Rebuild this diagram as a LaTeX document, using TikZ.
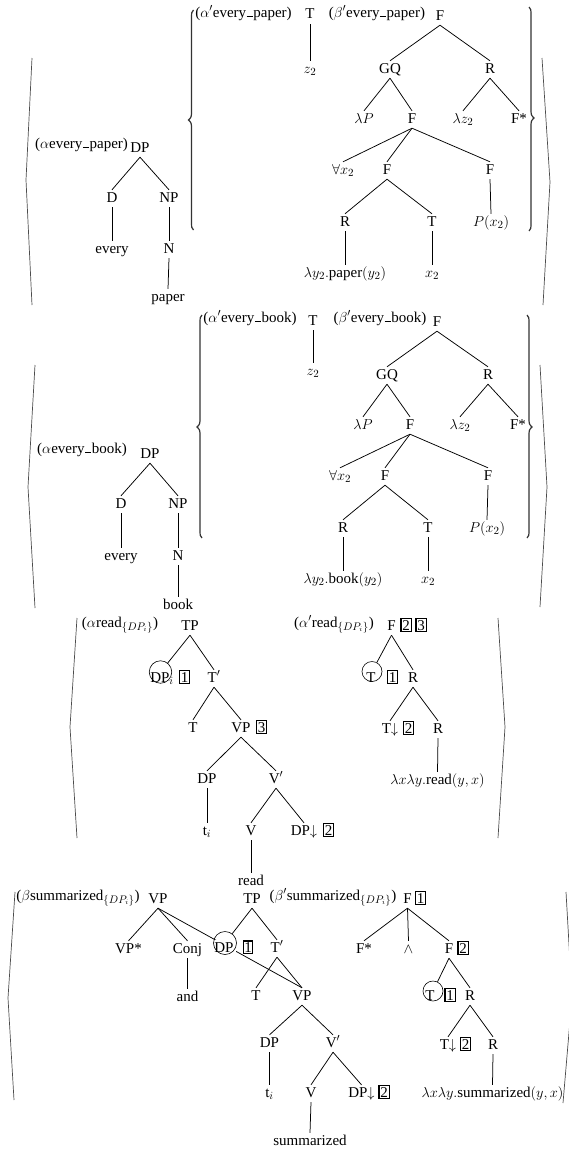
\documentclass[tikz,border=0pt]{standalone}
\usepackage{fontspec}
\setmainfont{Liberation Serif}
\newcommand{\usc}{\kern0.03em\rule{0.42em}{0.08em}\kern0.03em}
\tikzset{
 tn/.style={anchor=base, inner sep=2pt, text height=10pt, text depth=3pt, font=\fontsize{15}{18}\selectfont},
 lab/.style={anchor=base, inner sep=1pt, font=\fontsize{15}{18}\selectfont},
 bx/.style={anchor=base, draw, line width=1.3pt, inner sep=1.4pt, font=\fontsize{15}{18}\selectfont},
 cir/.style={circle, draw, line width=0.6pt, inner sep=0pt},
 edge/.style={line width=0.75pt},
 ang/.style={line width=0.7pt, draw=black!70},
 brc/.style={line width=1.2pt, draw=black!80},
}
\newcommand{\LBr}[4]{\draw[brc] (#1+2,#2) .. controls (#1,#2+2) .. (#1,#2+10) -- (#1,#3-10) .. controls (#1,#3-3) .. (#1-3,#3) .. controls (#1,#3+3) .. (#1,#3+10) -- (#1,#4-10) .. controls (#1,#4-2) .. (#1+2,#4);}
\newcommand{\RBr}[4]{\draw[brc] (#1-2,#2) .. controls (#1,#2+2) .. (#1,#2+10) -- (#1,#3-10) .. controls (#1,#3-3) .. (#1+3,#3) .. controls (#1,#3+3) .. (#1,#3+10) -- (#1,#4-10) .. controls (#1,#4-2) .. (#1-2,#4);}
\begin{document}
\begin{tikzpicture}[x=1pt,y=-1pt]
\useasboundingbox (0,0) rectangle (569,1151);
% angle brackets
\draw[ang] (32,58) -- (26,180) -- (32,305);
\draw[ang] (542,58) -- (550,182) -- (543,305);
\draw[ang] (35,365) -- (28,487) -- (35,608);
\draw[ang] (540,365) -- (547,487) -- (540,607);
\draw[ang] (77,618) -- (70,727) -- (77,838);
\draw[ang] (498,618) -- (505,727) -- (498,838);
\draw[ang] (15,892) -- (8,998) -- (14,1100);
\draw[ang] (566,892) -- (572,997) -- (563,1103);
% braces
\LBr{191.5}{10}{120}{230}
\RBr{531}{7}{118}{231}
\LBr{200}{315}{427}{538}
\RBr{529}{315}{427}{538}

% ===== Section 1 =====
\node[lab] (a1lab) at (81.5,148) {($\alpha$every\usc paper)};
\node[tn] (a1dp) at (140,152) {DP};
\node[tn] (a1d) at (112,202) {D};
\node[tn] (a1np) at (169,202) {NP};
\node[tn] (a1every) at (112,253) {every};
\node[tn] (a1n) at (169,253) {N};
\node[tn] (a1paper) at (168,301) {paper};
\node[lab] (b1lab) at (243.5,17) {($\alpha'$every\usc paper)};
\node[tn] (b1t) at (310,19) {T};
\node[tn] (b1z) at (310,73) {$z_2$};
\node[lab] (c1lab) at (377,17) {($\beta'$every\usc paper)};
\node[tn] (c1f) at (440,20) {F};
\node[tn] (c1gq) at (390,73) {GQ};
\node[tn] (c1r) at (490,73) {R};
\node[tn] (c1lp) at (364,123) {$\lambda P$};
\node[tn] (c1f2) at (412,123) {F};
\node[tn] (c1lz) at (463,123) {$\lambda z_2$};
\node[tn] (c1fs) at (519,123) {F*};
\node[tn] (c1all) at (343,174) {$\forall x_2$};
\node[tn] (c1f3) at (387,174) {F};
\node[tn] (c1f4) at (490,174) {F};
\node[tn] (c1r2) at (345,226) {R};
\node[tn] (c1t) at (432,226) {T};
\node[tn] (c1p) at (491,226) {$P(x_2)$};
\node[tn] (c1lam) at (345,277) {$\lambda y_2.$paper$(y_2)$};
\node[tn] (c1x) at (432,277) {$x_2$};
\foreach \p/\c in {a1dp/a1d,a1dp/a1np,a1d/a1every,a1np/a1n,a1n/a1paper,b1t/b1z,
  c1f/c1gq,c1f/c1r,c1gq/c1lp,c1gq/c1f2,c1r/c1lz,c1r/c1fs,c1f2/c1all,c1f2/c1f3,c1f2/c1f4,
  c1f3/c1r2,c1f3/c1t,c1f4/c1p,c1r2/c1lam,c1t/c1x}
  \draw[edge] (\p.south) -- (\c.north);

% ===== Section 2 =====
\node[lab] (a2lab) at (82,453) {($\alpha$every\usc book)};
\node[tn] (a2dp) at (150,458) {DP};
\node[tn] (a2d) at (121,508) {D};
\node[tn] (a2np) at (178,508) {NP};
\node[tn] (a2every) at (121,560) {every};
\node[tn] (a2n) at (178,560) {N};
\node[tn] (a2book) at (178,609) {book};
\node[lab] (b2lab) at (250,322) {($\alpha'$every\usc book)};
\node[tn] (b2t) at (313,325) {T};
\node[tn] (b2z) at (313,375) {$z_2$};
\node[lab] (c2lab) at (380,322) {($\beta'$every\usc book)};
\node[tn] (c2f) at (437,326) {F};
\node[tn] (c2gq) at (387,379) {GQ};
\node[tn] (c2r) at (488,379) {R};
\node[tn] (c2lp) at (363,429) {$\lambda P$};
\node[tn] (c2f2) at (410,429) {F};
\node[tn] (c2lz) at (460,429) {$\lambda z_2$};
\node[tn] (c2fs) at (518,429) {F*};
\node[tn] (c2all) at (340,480) {$\forall x_2$};
\node[tn] (c2f3) at (385,480) {F};
\node[tn] (c2f4) at (488,480) {F};
\node[tn] (c2r2) at (343,532) {R};
\node[tn] (c2t) at (428,532) {T};
\node[tn] (c2p) at (487,532) {$P(x_2)$};
\node[tn] (c2lam) at (343,583) {$\lambda y_2.$book$(y_2)$};
\node[tn] (c2x) at (428,583) {$x_2$};
\foreach \p/\c in {a2dp/a2d,a2dp/a2np,a2d/a2every,a2np/a2n,a2n/a2book,b2t/b2z,
  c2f/c2gq,c2f/c2r,c2gq/c2lp,c2gq/c2f2,c2r/c2lz,c2r/c2fs,c2f2/c2all,c2f2/c2f3,c2f2/c2f4,
  c2f3/c2r2,c2f3/c2t,c2f4/c2p,c2r2/c2lam,c2t/c2x}
  \draw[edge] (\p.south) -- (\c.north);

% ===== Section 3 =====
\node[lab] (d3lab) at (120,627) {($\alpha$read$_{\{DP_i\}}$)};
\node[tn] (d3tp) at (190,630) {TP};
\node[tn] (d3dpi) at (162,682) {DP$_i$};
\node[cir, minimum size=22.5pt] (d3c) at (160.5,672) {};
\node[bx] (d3b1) at (184.5,682) {1};
\node[tn] (d3tb) at (214,682) {T$'$};
\node[tn] (d3t) at (193,732) {T};
\node[tn] (d3vp) at (241,732) {VP};
\node[bx] (d3b3) at (261.5,732) {3};
\node[tn] (d3dp) at (207,783) {DP};
\node[tn] (d3vb) at (276,783) {V$'$};
\node[tn] (d3ti) at (207,835) {t$_i$};
\node[tn] (d3v) at (251,835) {V};
\node[tn] (d3dpd) at (304,835) {DP$\downarrow$};
\node[bx] (d3b2) at (328.5,835) {2};
\node[tn] (d3read) at (251,885) {read};
\draw[edge] (d3tp.south) -- (d3c);
\foreach \p/\c in {d3tp/d3tb,d3tb/d3t,d3tb/d3vp,d3vp/d3dp,d3vp/d3vb,d3dp/d3ti,d3vb/d3v,d3vb/d3dpd,d3v/d3read}
  \draw[edge] (\p.south) -- (\c.north);

\node[lab] (e3lab) at (334,627) {($\alpha'$read$_{\{DP_i\}}$)};
\node[tn] (e3f) at (391.5,630) {F};
\node[bx] (e3b2) at (406,630) {2};
\node[bx] (e3b3) at (421,630) {3};
\node[tn] (e3t) at (371,682) {T};
\node[cir, minimum size=20pt] (e3c) at (372,671.5) {};
\node[bx] (e3b1) at (392.5,682) {1};
\node[tn] (e3r) at (413,682) {R};
\node[tn] (e3td) at (390,733) {T$\downarrow$};
\node[bx] (e3b2b) at (408.5,733) {2};
\node[tn] (e3r2) at (438,733) {R};
\node[tn] (e3lam) at (437.5,784) {$\lambda x\lambda y.$read$(y,x)$};
\draw[edge] (e3f.south) -- (e3c);
\foreach \p/\c in {e3f/e3r,e3r/e3td,e3r/e3r2,e3r2/e3lam}
  \draw[edge] (\p.south) -- (\c.north);

% ===== Section 4 =====
\node[lab] (f4lab) at (78,900) {($\beta$summarized$_{\{DP_i\}}$)};
\node[tn] (f4vp) at (158,903) {VP};
\node[tn] (f4vps) at (128.5,953) {VP*};
\node[tn] (f4conj) at (187.5,953) {Conj};
\node[tn] (f4and) at (187.5,1001) {and};
\node[tn] (g4tp) at (252,903) {TP};
\node[tn] (g4tb) at (277,952) {T$'$};
\node[tn] (g4t) at (256,1000) {T};
\node[tn] (g4vp) at (302,1000) {VP};
\draw[edge] (f4vp.south) -- (g4vp.north);
\node[tn, fill=white] (g4dp) at (224,952) {DP};
\node[cir, minimum size=23pt] (g4c) at (225,943) {};
\node[bx, line width=1.1pt, inner sep=1.1pt] (g4b1) at (248,952) {1};
\node[tn] (g4dp2) at (269.5,1047) {DP};
\node[tn] (g4vb) at (333,1047) {V$'$};
\node[tn] (g4ti) at (269.5,1097) {t$_i$};
\node[tn] (g4v) at (311,1097) {V};
\node[tn] (g4dpd) at (361.5,1097) {DP$\downarrow$};
\node[bx] (g4b2) at (384,1097) {2};
\node[tn] (g4sum) at (310,1145) {summarized};
\draw[edge] (g4tp.south) -- (g4c);
\foreach \p/\c in {f4vp/f4vps,f4vp/f4conj,f4conj/f4and,g4tp/g4tb,g4tb/g4t,g4tb/g4vp,
  g4vp/g4dp2,g4vp/g4vb,g4dp2/g4ti,g4vb/g4v,g4vb/g4dpd,g4v/g4sum}
  \draw[edge] (\p.south) -- (\c.north);

\node[lab] (h4lab) at (333,900) {($\beta'$summarized$_{\{DP_i\}}$)};
\node[tn] (h4f) at (407.5,903) {F};
\node[bx] (h4b1) at (420.5,903) {1};
\node[tn] (h4fs) at (364,953) {F*};
\node[tn] (h4and) at (408.5,953) {$\wedge$};
\node[tn] (h4f2) at (449,953) {F};
\node[bx] (h4b2) at (463,953) {2};
\node[tn] (h4t) at (430,1000) {T};
\node[cir, minimum size=20pt] (h4c) at (433,991) {};
\node[bx] (h4b1b) at (450,1000) {1};
\node[tn] (h4r) at (470,1000) {R};
\node[tn] (h4td) at (448,1049) {T$\downarrow$};
\node[bx] (h4b2b) at (465.5,1049) {2};
\node[tn] (h4r2) at (493,1049) {R};
\node[tn] (h4lam) at (492.5,1097) {$\lambda x\lambda y.$summarized$(y,x)$};
\draw[edge] (h4f2.south) -- (h4c);
\foreach \p/\c in {h4f/h4fs,h4f/h4and,h4f/h4f2,h4f2/h4r,h4r/h4td,h4r/h4r2,h4r2/h4lam}
  \draw[edge] (\p.south) -- (\c.north);
\end{tikzpicture}
\end{document}
